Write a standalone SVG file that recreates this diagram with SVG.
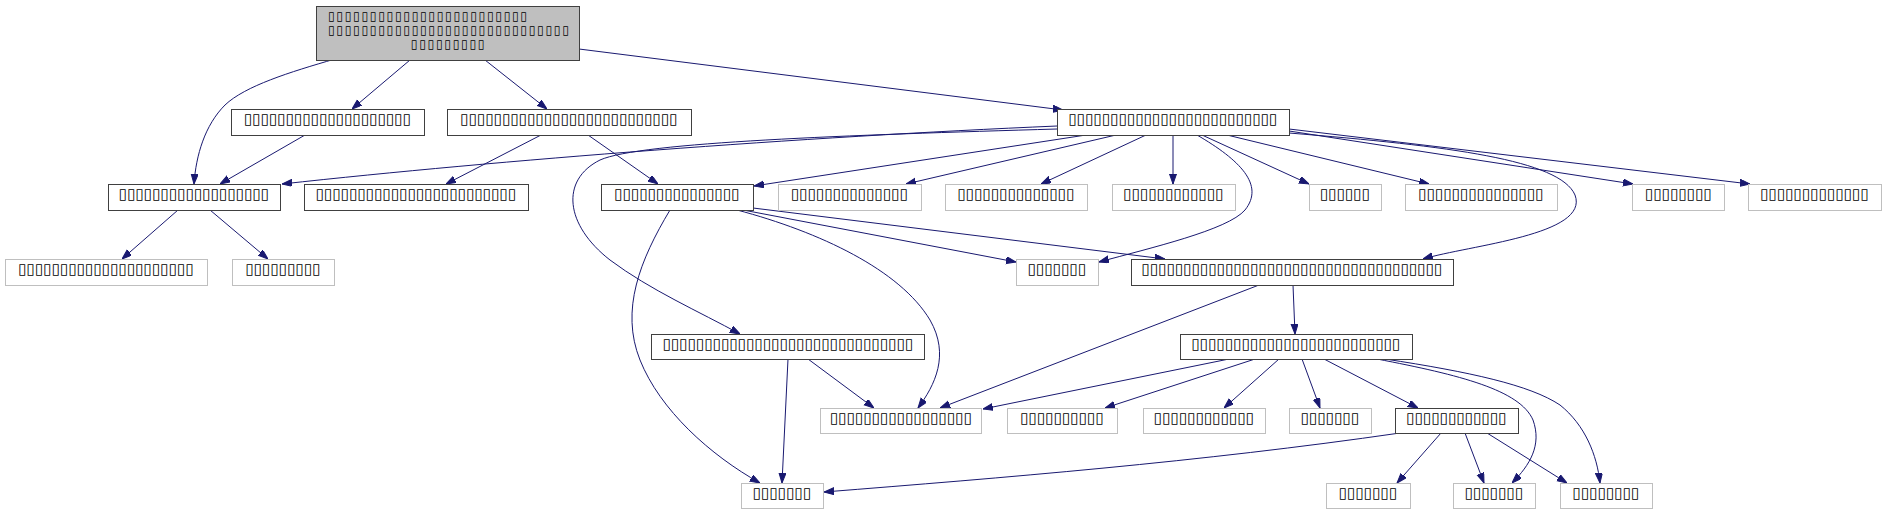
<svg xmlns="http://www.w3.org/2000/svg" width="1886" height="515" viewBox="0 0 1886 515">
<style>
.n rect{fill:#fff;stroke:#404040;stroke-width:1}
.g rect{fill:#fff;stroke:#bfbfbf;stroke-width:1}
.r rect{fill:#bfbfbf;stroke:#404040;stroke-width:1}
text{font-family:"DejaVu Sans",sans-serif;font-size:15.2px;fill:#000;text-anchor:middle}
.r text{font-size:12px;letter-spacing:1.76px}
text.l{text-anchor:start}
.e path{fill:none;stroke:#191970;stroke-width:1;marker-end:url(#arr)}
</style>
<defs>
<marker id="arr" markerUnits="userSpaceOnUse" markerWidth="10" markerHeight="8" refX="10" refY="3.5" orient="auto"><path d="M0,0 L10,3.5 L0,7 z" fill="#191970" stroke="#191970" stroke-width="1"/></marker>
</defs>
<rect width="1886" height="515" fill="#fff"/>
<g class="e" id="edges">
<path d="M335,59 C290,72 245,86 225,105 C205,125 196,155 194,184"/>
<path d="M410,60 L352,109"/>
<path d="M485,60 L547,109"/>
<path d="M579,49 L1063,110"/>
<path d="M305,135 L220,184"/>
<path d="M541,135 L446,184"/>
<path d="M588,135 L658,184"/>
<path d="M1057,126 C800,137 500,160 282,184"/>
<path d="M1057,129 C850,135 640,142 600,160 C560,180 565,225 610,260 C650,290 700,312 740,334"/>
<path d="M1086,135 L754,186"/>
<path d="M1116,135 L906,184"/>
<path d="M1146,135 L1041,184"/>
<path d="M1173,135 L1173,184"/>
<path d="M1197,135 C1240,160 1265,185 1245,210 C1228,230 1150,248 1099,262"/>
<path d="M1202,135 L1309,184"/>
<path d="M1227,135 L1429,184"/>
<path d="M1289,133 C1450,146 1560,160 1575,195 C1590,235 1470,245 1423,259"/>
<path d="M1289,131 L1633,184"/>
<path d="M1289,129 L1750,184"/>
<path d="M178,210 L122,259"/>
<path d="M210,210 L268,259"/>
<path d="M743,210 L1016,262"/>
<path d="M753,208 L1165,259"/>
<path d="M737,210 C820,232 900,270 930,320 C950,355 935,385 918,408"/>
<path d="M670,210 C640,260 620,310 640,360 C660,410 710,455 760,483"/>
<path d="M788,359 L782,483"/>
<path d="M808,359 L874,408"/>
<path d="M1259,285 L940,408"/>
<path d="M1293,285 L1295,334"/>
<path d="M1229,359 L983,409"/>
<path d="M1255,359 L1105,408"/>
<path d="M1279,359 L1224,408"/>
<path d="M1302,359 L1320,408"/>
<path d="M1324,359 L1418,408"/>
<path d="M1377,359 C1460,375 1520,390 1533,420 C1542,445 1530,465 1512,483"/>
<path d="M1385,359 C1470,372 1530,385 1560,405 C1585,425 1597,455 1600,483"/>
<path d="M1400,433 C1200,462 1000,478 824,492"/>
<path d="M1441,433 L1397,483"/>
<path d="M1465,433 L1484,483"/>
<path d="M1487,433 L1567,483"/>
</g>
<g class="r" id="root"><rect x="316.5" y="6.5" width="263" height="54"/>
<text class="l" x="328" y="19.5">▯▯▯▯▯▯▯▯▯▯▯▯▯▯▯▯▯▯▯▯▯▯▯▯</text>
<text class="l" x="328" y="33.5">▯▯▯▯▯▯▯▯▯▯▯▯▯▯▯▯▯▯▯▯▯▯▯▯▯▯▯▯▯</text>
<text x="448.5" y="47.5">▯▯▯▯▯▯▯▯▯</text></g>
<g class="n" id="n_a"><rect x="231.5" y="109.5" width="193" height="26"/><text x="327.5" y="124">▯▯▯▯▯▯▯▯▯▯▯▯▯▯▯▯▯▯▯▯</text></g>
<g class="n" id="n_b"><rect x="447.5" y="109.5" width="244" height="26"/><text x="569" y="124">▯▯▯▯▯▯▯▯▯▯▯▯▯▯▯▯▯▯▯▯▯▯▯▯▯▯</text></g>
<g class="n" id="n_c"><rect x="1057.5" y="109.5" width="232" height="26"/><text x="1173" y="124">▯▯▯▯▯▯▯▯▯▯▯▯▯▯▯▯▯▯▯▯▯▯▯▯▯</text></g>
<g class="n" id="n_d"><rect x="108.5" y="184.5" width="172" height="26"/><text x="194" y="199">▯▯▯▯▯▯▯▯▯▯▯▯▯▯▯▯▯▯</text></g>
<g class="n" id="n_e"><rect x="304.5" y="184.5" width="224" height="26"/><text x="416" y="199">▯▯▯▯▯▯▯▯▯▯▯▯▯▯▯▯▯▯▯▯▯▯▯▯</text></g>
<g class="n" id="n_f"><rect x="601.5" y="184.5" width="152" height="26"/><text x="677" y="199">▯▯▯▯▯▯▯▯▯▯▯▯▯▯▯</text></g>
<g class="g" id="g1"><rect x="778.5" y="184.5" width="143" height="26"/><text x="849.5" y="199">▯▯▯▯▯▯▯▯▯▯▯▯▯▯</text></g>
<g class="g" id="g2"><rect x="945.5" y="184.5" width="142" height="26"/><text x="1016" y="199">▯▯▯▯▯▯▯▯▯▯▯▯▯▯</text></g>
<g class="g" id="g3"><rect x="1112.5" y="184.5" width="123" height="26"/><text x="1173.5" y="199">▯▯▯▯▯▯▯▯▯▯▯▯</text></g>
<g class="g" id="g4"><rect x="1309.5" y="184.5" width="72" height="26"/><text x="1345" y="199">▯▯▯▯▯▯</text></g>
<g class="g" id="g5"><rect x="1405.5" y="184.5" width="152" height="26"/><text x="1481" y="199">▯▯▯▯▯▯▯▯▯▯▯▯▯▯▯</text></g>
<g class="g" id="g6"><rect x="1632.5" y="184.5" width="92" height="26"/><text x="1678.5" y="199">▯▯▯▯▯▯▯▯</text></g>
<g class="g" id="g7"><rect x="1748.5" y="184.5" width="133" height="26"/><text x="1814.5" y="199">▯▯▯▯▯▯▯▯▯▯▯▯▯</text></g>
<g class="g" id="gA"><rect x="5.5" y="259.5" width="202" height="26"/><text x="106" y="274">▯▯▯▯▯▯▯▯▯▯▯▯▯▯▯▯▯▯▯▯▯</text></g>
<g class="g" id="gB"><rect x="232.5" y="259.5" width="102" height="26"/><text x="283" y="274">▯▯▯▯▯▯▯▯▯</text></g>
<g class="g" id="gC"><rect x="1016.5" y="259.5" width="82" height="26"/><text x="1057" y="274">▯▯▯▯▯▯▯</text></g>
<g class="n" id="n_g"><rect x="1131.5" y="259.5" width="322" height="26"/><text x="1292" y="274">▯▯▯▯▯▯▯▯▯▯▯▯▯▯▯▯▯▯▯▯▯▯▯▯▯▯▯▯▯▯▯▯▯▯▯▯</text></g>
<g class="n" id="n_h"><rect x="651.5" y="334.5" width="273" height="25"/><text x="788" y="349">▯▯▯▯▯▯▯▯▯▯▯▯▯▯▯▯▯▯▯▯▯▯▯▯▯▯▯▯▯▯</text></g>
<g class="n" id="n_i"><rect x="1180.5" y="334.5" width="232" height="25"/><text x="1296" y="349">▯▯▯▯▯▯▯▯▯▯▯▯▯▯▯▯▯▯▯▯▯▯▯▯▯</text></g>
<g class="g" id="d1"><rect x="820.5" y="408.5" width="161" height="25"/><text x="901" y="423">▯▯▯▯▯▯▯▯▯▯▯▯▯▯▯▯▯</text></g>
<g class="g" id="d2"><rect x="1007.5" y="408.5" width="110" height="25"/><text x="1062" y="423">▯▯▯▯▯▯▯▯▯▯</text></g>
<g class="g" id="d3"><rect x="1143.5" y="408.5" width="122" height="25"/><text x="1204" y="423">▯▯▯▯▯▯▯▯▯▯▯▯</text></g>
<g class="g" id="d4"><rect x="1289.5" y="408.5" width="82" height="25"/><text x="1330" y="423">▯▯▯▯▯▯▯</text></g>
<g class="n" id="n_j"><rect x="1395.5" y="408.5" width="123" height="25"/><text x="1456.5" y="423">▯▯▯▯▯▯▯▯▯▯▯▯</text></g>
<g class="g" id="G1"><rect x="741.5" y="483.5" width="82" height="25"/><text x="782" y="498">▯▯▯▯▯▯▯</text></g>
<g class="g" id="G2"><rect x="1326.5" y="483.5" width="84" height="25"/><text x="1368" y="498">▯▯▯▯▯▯▯</text></g>
<g class="g" id="G3"><rect x="1453.5" y="483.5" width="82" height="25"/><text x="1494" y="498">▯▯▯▯▯▯▯</text></g>
<g class="g" id="G4"><rect x="1560.5" y="483.5" width="92" height="25"/><text x="1606" y="498">▯▯▯▯▯▯▯▯</text></g>
</svg>
